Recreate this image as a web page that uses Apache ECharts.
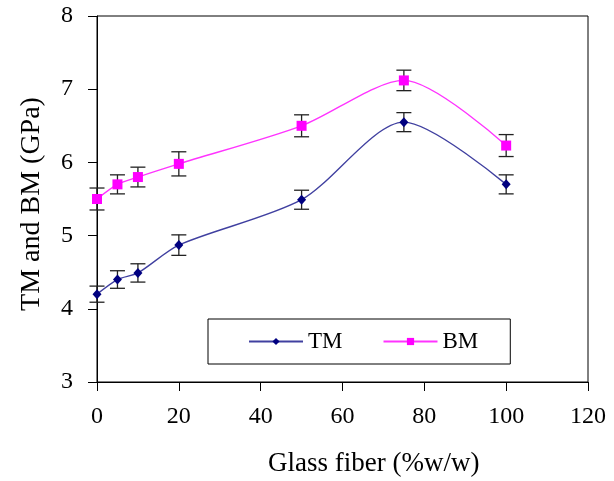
<!DOCTYPE html>
<html>
<head>
<meta charset="utf-8">
<script src="https://cdn.jsdelivr.net/npm/echarts@6/dist/echarts.min.js"></script>
<style>
    html, body { margin: 0; padding: 0; background: #fff; }
    #chart { width: 614px; height: 481px; }
</style>
</head>
<body>
<div id="chart"></div>
<script>
// glass fiber content (%w/w)
var fiberContent = [0, 5, 10, 20, 50, 75, 100];
// tensile modulus and its error
var tmValues = [4.2, 4.4, 4.49, 4.87, 5.49, 6.55, 5.7];
var tmErrors = [0.11, 0.12, 0.125, 0.14, 0.13, 0.13, 0.13];
// bending modulus and its error
var bmValues = [5.5, 5.7, 5.8, 5.98, 6.5, 7.12, 6.23];
var bmErrors = [0.15, 0.13, 0.135, 0.165, 0.15, 0.14, 0.15];

var serif = 'Liberation Serif';

function pairs(xs, ys) {
    return xs.map(function (x, i) { return [x, ys[i]]; });
}

function errorData(xs, ys, es) {
    return xs.map(function (x, i) { return [x, ys[i] - es[i], ys[i] + es[i]]; });
}

// draw the whisker and its two caps
function renderError(params, api) {
    var low = api.coord([api.value(0), api.value(1)]);
    var high = api.coord([api.value(0), api.value(2)]);
    var half = 7.5;
    var style = { stroke: '#222', lineWidth: 1.3 };
    return {
        type: 'group',
        children: [
            { type: 'line', shape: { x1: low[0], y1: low[1], x2: high[0], y2: high[1] }, style: style },
            { type: 'line', shape: { x1: low[0] - half, y1: low[1], x2: low[0] + half, y2: low[1] }, style: style },
            { type: 'line', shape: { x1: high[0] - half, y1: high[1], x2: high[0] + half, y2: high[1] }, style: style }
        ]
    };
}

var chart = echarts.init(document.getElementById('chart'));

var option = {
    animation: false,
    textStyle: { fontFamily: serif },
    grid: {
        left: 97, right: 26, top: 16, bottom: 99,
        show: true, borderColor: '#000', borderWidth: 1
    },
    graphic: [
        {
            type: 'text', left: 268, top: 450,
            style: { text: 'Glass fiber (%w/w)', font: '27px "Liberation Serif"', fill: '#000' }
        },
        {
            type: 'text', x: 31.5, y: 204, rotation: Math.PI / 2,
            style: {
                text: 'TM and BM (GPa)', font: '28px "Liberation Serif"', fill: '#000',
                align: 'center', verticalAlign: 'middle'
            }
        }
    ],
    legend: {
        left: 208, top: 319,
        padding: [11, 32, 11, 40],
        borderColor: '#000', borderWidth: 1,
        itemWidth: 54, itemHeight: 9, itemGap: 40,
        textStyle: { fontFamily: serif, fontSize: 23, color: '#000' },
        data: ['TM', 'BM']
    },
    xAxis: {
        type: 'value',
        min: 0, max: 120, interval: 20,
        axisLine: { lineStyle: { color: '#000', width: 1 } },
        axisTick: { inside: false, length: 9, lineStyle: { color: '#000' } },
        axisLabel: { margin: 23, fontFamily: serif, fontSize: 24, color: '#000' },
        splitLine: { show: false }
    },
    yAxis: {
        type: 'value',
        min: 3, max: 8, interval: 1,
        axisLine: { show: true, lineStyle: { color: '#000', width: 1 } },
        axisTick: { show: true, inside: false, length: 9, lineStyle: { color: '#000' } },
        axisLabel: { margin: 24, fontFamily: serif, fontSize: 24, color: '#000' },
        splitLine: { show: false }
    },
    series: [
        {
            type: 'custom',
            name: 'TM error',
            renderItem: renderError,
            data: errorData(fiberContent, tmValues, tmErrors),
            z: 1,
            silent: true
        },
        {
            type: 'custom',
            name: 'BM error',
            renderItem: renderError,
            data: errorData(fiberContent, bmValues, bmErrors),
            z: 1,
            silent: true
        },
        {
            type: 'line',
            name: 'TM',
            data: pairs(fiberContent, tmValues),
            smooth: 0.28,
            symbol: 'diamond',
            symbolSize: [9, 10],
            itemStyle: { color: '#000080' },
            lineStyle: { color: '#000080', width: 1.4, opacity: 0.75 },
            z: 3
        },
        {
            type: 'line',
            name: 'BM',
            data: pairs(fiberContent, bmValues),
            smooth: 0.28,
            symbol: 'rect',
            symbolSize: 10,
            itemStyle: { color: '#ff00ff' },
            lineStyle: { color: '#ff00ff', width: 1.4, opacity: 0.8 },
            z: 3
        }
    ]
};

chart.setOption(option);
</script>
</body>
</html>
